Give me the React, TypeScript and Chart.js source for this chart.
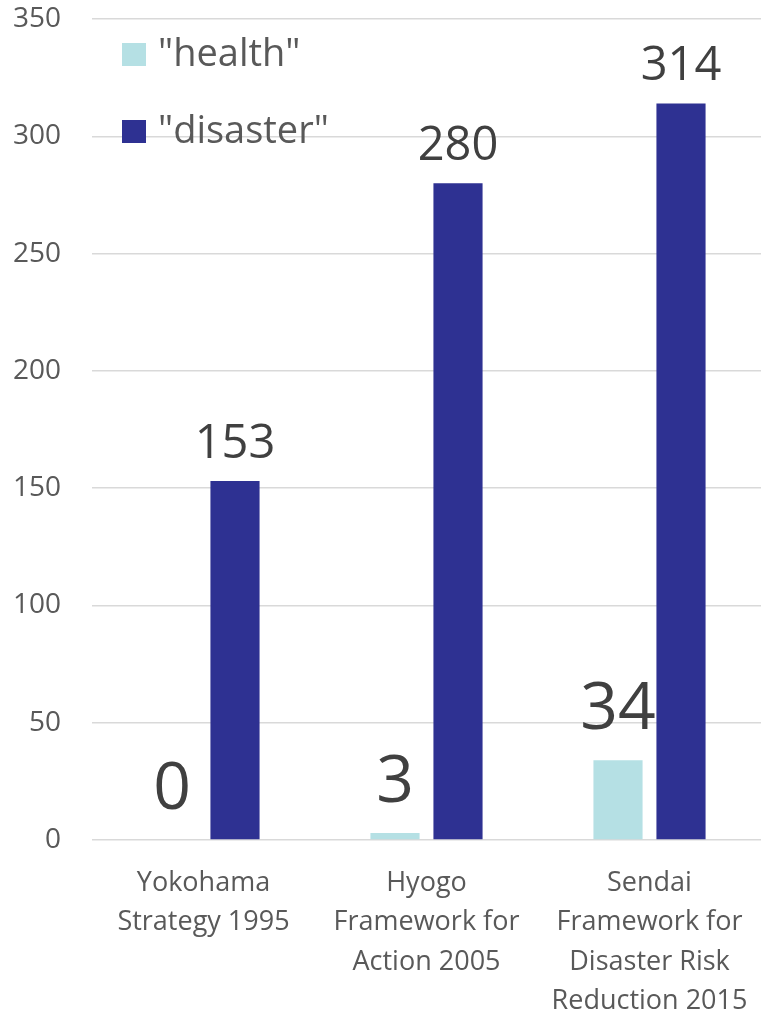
import { useEffect, useRef } from "react";
import { Chart, registerables } from "chart.js";

Chart.register(...registerables);

const categories: string[][] = [
  ["Yokohama", "Strategy 1995"],
  ["Hyogo", "Framework for", "Action 2005"],
  ["Sendai", "Framework for", "Disaster Risk", "Reduction 2015"],
];
const seriesNames = ['"health"', '"disaster"'];
const healthValues = [0, 3, 34];
const disasterValues = [153, 280, 314];
const yMin = 0;
const yMax = 350;
const yStep = 50;

const FONT = '"Open Sans", "Noto Sans", sans-serif';
const healthColor = "#b5e0e4";
const disasterColor = "#2e3192";

const labelStyles = [
  { size: 66, offset: 31 },
  { size: 47, offset: 23 },
];

const valueLabelPlugin = {
  id: "valueLabels",
  afterDatasetsDraw(chart: any) {
    const ctx = chart.ctx;
    chart.data.datasets.forEach((ds: any, di: number) => {
      const meta = chart.getDatasetMeta(di);
      const st = labelStyles[di];
      ctx.save();
      ctx.font = `${st.size}px ${FONT}`;
      ctx.fillStyle = "#404040";
      ctx.textAlign = "center";
      ctx.textBaseline = "alphabetic";
      meta.data.forEach((el: any, i: number) => {
        ctx.fillText(String(ds.data[i]), el.x, el.y - st.offset);
      });
      ctx.restore();
    });
  },
};

const insideLegendPlugin = {
  id: "insideLegend",
  afterDraw(chart: any) {
    const ctx = chart.ctx;
    const left = chart.chartArea.left + 30;
    const rows = [66, 143];
    ctx.save();
    ctx.font = `38px ${FONT}`;
    ctx.textBaseline = "alphabetic";
    ctx.textAlign = "left";
    chart.data.datasets.forEach((ds: any, i: number) => {
      const base = rows[i];
      ctx.fillStyle = ds.backgroundColor;
      ctx.fillRect(left, base - 23, 24, 23);
      ctx.fillStyle = "#595959";
      ctx.fillText(ds.label, left + 36, base);
    });
    ctx.restore();
  },
};

function BarChart() {
  const ref = useRef<HTMLCanvasElement | null>(null);
  useEffect(() => {
    if (!ref.current) return;
    const chart = new Chart(ref.current, {
      type: "bar",
      data: {
        labels: categories,
        datasets: [
          {
            label: seriesNames[0],
            data: healthValues,
            backgroundColor: healthColor,
            categoryPercentage: 0.565,
            barPercentage: 0.78,
          },
          {
            label: seriesNames[1],
            data: disasterValues,
            backgroundColor: disasterColor,
            categoryPercentage: 0.565,
            barPercentage: 0.78,
          },
        ],
      },
      options: {
        animation: false,
        responsive: true,
        maintainAspectRatio: false,
        layout: { padding: { top: 19, right: 0, left: 0, bottom: 0 } },
        plugins: {
          legend: { display: false },
          tooltip: { enabled: false },
        },
        scales: {
          x: {
            grid: { display: false, drawTicks: false },
            border: { display: false },
            ticks: {
              color: "#595959",
              font: { family: FONT, size: 27, lineHeight: 1.45 },
              padding: 24,
              maxRotation: 0,
              autoSkip: false,
            },
            afterFit(scale: any) {
              scale.height = 172;
              scale.paddingLeft = 0;
              scale.paddingRight = 0;
            },
          },
          y: {
            min: yMin,
            max: yMax,
            grid: { color: "#d9d9d9", lineWidth: 1.5, drawTicks: false },
            border: { display: false },
            ticks: {
              stepSize: yStep,
              color: "#595959",
              font: { family: FONT, size: 28 },
              padding: 31,
            },
            afterFit(scale: any) {
              scale.width = 92;
              scale.paddingTop = 0;
              scale.paddingBottom = 0;
            },
          },
        },
      },
      plugins: [valueLabelPlugin, insideLegendPlugin],
    });
    return () => chart.destroy();
  }, []);
  return <canvas ref={ref} />;
}

export default function App() {
  return (
    <div
      style={{
        position: "fixed",
        left: 0,
        top: 0,
        width: 761,
        height: 1012,
        background: "#ffffff",
      }}
    >
      <BarChart />
    </div>
  );
}
